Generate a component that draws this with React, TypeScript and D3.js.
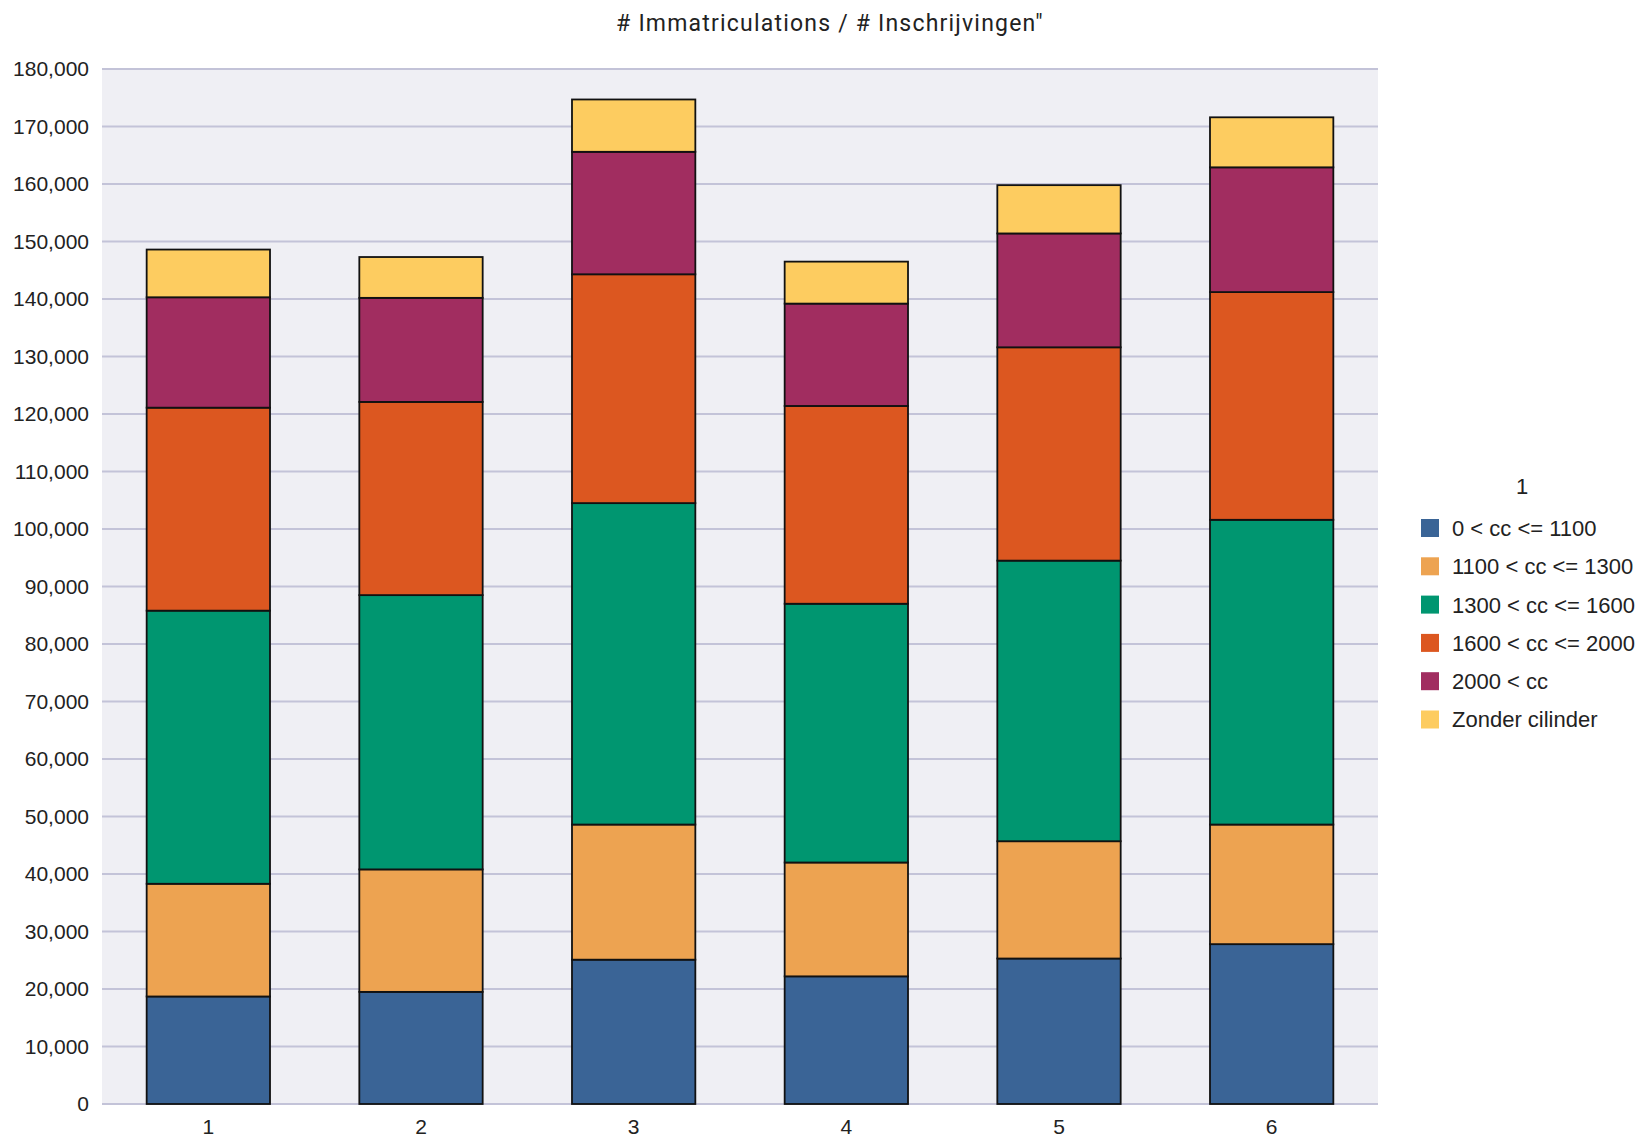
import React from "react";
import * as d3 from "d3";

const categories = ["1", "2", "3", "4", "5", "6"];
const seriesNames = [
  "0 < cc <= 1100",
  "1100 < cc <= 1300",
  "1300 < cc <= 1600",
  "1600 < cc <= 2000",
  "2000 < cc",
  "Zonder cilinder",
];
const seriesColors = ["#3a6496", "#eda351", "#009670", "#dc5720", "#a12d60", "#fdcc60"];
const s0 = [18700, 19500, 25100, 22200, 25300, 27800];
const s1 = [19600, 21300, 23500, 19800, 20400, 20800];
const s2 = [47500, 47700, 55900, 45000, 48800, 53000];
const s3 = [35300, 33600, 39800, 34400, 37100, 39600];
const s4 = [19200, 18100, 21300, 17800, 19800, 21700];
const s5 = [8300, 7100, 9100, 7300, 8400, 8700];
const yTicks = d3.range(0, 180001, 10000);
const title = "# Immatriculations / # Inschrijvingen\"";
const legendTitle = "1";

const W = 1639, H = 1141;
const left = 102, right = 1378, top = 69, bottom = 1104;
const FONT = "'Liberation Sans', Arial, sans-serif";

export default function App() {
  const series = [s0, s1, s2, s3, s4, s5];
  const data = categories.map((c, i) => {
    const o: any = { cat: c };
    seriesNames.forEach((n, k) => (o[n] = series[k][i]));
    return o;
  });
  const stacked = d3.stack().keys(seriesNames)(data);
  const x = d3.scaleBand().domain(categories).range([left, right]).paddingInner(0.42).paddingOuter(0.21);
  const y = d3.scaleLinear().domain([0, 180000]).range([bottom, top]);
  const fmt = d3.format(",");
  return (
    <svg width={W} height={H} style={{ position: "absolute", left: 0, top: 0, background: "#fff" }}>
      <rect x={left} y={top} width={right - left} height={bottom - top} fill="#efeff4" />
      {yTicks.map((t) => (
        <g key={t}>
          <line x1={left} x2={right} y1={y(t)} y2={y(t)} stroke="#c3c3d8" strokeWidth={2} />
          <text x={89} y={y(t)} dy="0.35em" textAnchor="end" fontFamily={FONT} fontSize={21} fill="#222">
            {fmt(t)}
          </text>
        </g>
      ))}
      {stacked.map((s, k) => (
        <g key={s.key} fill={seriesColors[k]}>
          {s.map((d, i) => (
            <rect
              key={i}
              x={x(categories[i])}
              y={y(d[1])}
              width={x.bandwidth()}
              height={y(d[0]) - y(d[1])}
              stroke="#111"
              strokeWidth={1.8}
            />
          ))}
        </g>
      ))}
      {categories.map((c) => (
        <text key={c} x={x(c)! + x.bandwidth() / 2} y={1134} textAnchor="middle" fontFamily={FONT} fontSize={21} fill="#222">
          {c}
        </text>
      ))}
      <text x={830} y={31} textAnchor="middle" fontFamily="Roboto" fontSize={23} letterSpacing={1.2} fill="#222">
        {title}
      </text>
      <text x={1522} y={494} textAnchor="middle" fontFamily={FONT} fontSize={22} fill="#222">
        {legendTitle}
      </text>
      {seriesNames.map((n, k) => (
        <g key={n} transform={`translate(1421, ${519 + k * 38.3})`}>
          <rect width={18} height={18} fill={seriesColors[k]} />
          <text x={31} y={9} dy="0.36em" fontFamily={FONT} fontSize={22} fill="#222">
            {n}
          </text>
        </g>
      ))}
    </svg>
  );
}
